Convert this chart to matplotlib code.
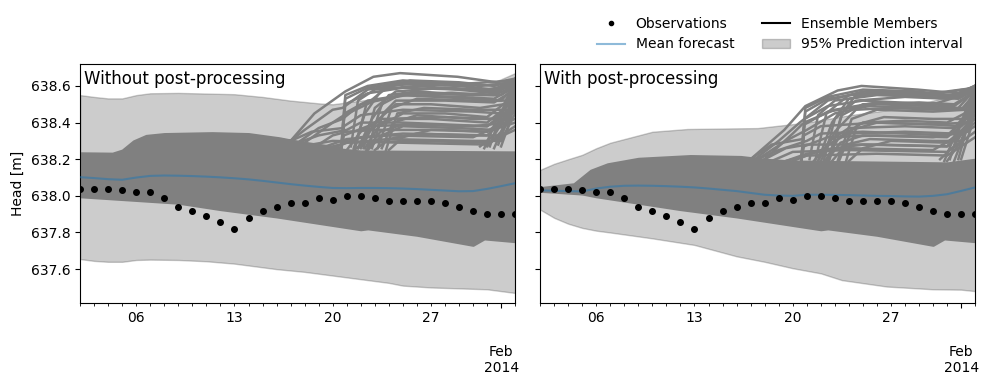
import matplotlib
matplotlib.use("Agg")
import matplotlib.pyplot as plt
import matplotlib.dates as mdates
from matplotlib.ticker import FuncFormatter, FormatStrFormatter
from matplotlib.lines import Line2D
from matplotlib.patches import Patch
import numpy as np
from datetime import datetime, timedelta

# days are counted in January 2014 (32 = Feb 1, 33 = Feb 2)
obs_days = list(range(2, 34))
observations = [638.04, 638.04, 638.04, 638.03, 638.02, 638.02, 637.99, 637.94,
                637.92, 637.89, 637.86, 637.82, 637.88, 637.92, 637.94, 637.96,
                637.96, 637.99, 637.98, 638.00, 638.00, 637.99, 637.97, 637.97,
                637.97, 637.97, 637.96, 637.94, 637.92, 637.90, 637.90, 637.90]

mean_raw = [638.102, 638.097, 638.091, 638.088, 638.100, 638.109, 638.111, 638.110,
            638.108, 638.105, 638.101, 638.096, 638.090, 638.082, 638.073, 638.064,
            638.056, 638.049, 638.043, 638.042, 638.043, 638.043, 638.042, 638.040,
            638.037, 638.033, 638.029, 638.025, 638.026, 638.038, 638.053, 638.069]
mean_post = [638.030, 638.028, 638.026, 638.024, 638.040, 638.050, 638.055, 638.056,
             638.055, 638.053, 638.050, 638.046, 638.040, 638.033, 638.026, 638.016,
             638.006, 638.002, 638.000, 638.006, 638.006, 638.005, 638.004, 638.002,
             638.000, 637.999, 637.997, 637.996, 638.000, 638.009, 638.027, 638.046]

# 95% prediction interval (day, value)
pi_low_raw = [(2, 637.655), (3, 637.645), (4, 637.64), (5, 637.64), (6, 637.65), (7, 637.652),
              (9, 637.65), (11, 637.643), (13, 637.63), (14, 637.62), (16, 637.60), (18, 637.585),
              (19, 637.575), (20, 637.565), (22, 637.545), (24, 637.525), (25, 637.51),
              (27, 637.50), (29, 637.495), (31, 637.49), (33, 637.47)]
pi_up_raw = [(2, 638.55), (3, 638.54), (4, 638.532), (5, 638.532), (6, 638.55), (7, 638.56),
             (9, 638.562), (13, 638.555), (15, 638.54), (17, 638.52), (19, 638.505), (20, 638.50),
             (21, 638.51), (23, 638.53), (25, 638.55), (28, 638.57), (30, 638.59),
             (31.5, 638.62), (33, 638.67)]
pi_low_post = [(2, 637.925), (3, 637.88), (4, 637.848), (5, 637.825), (6, 637.81), (7, 637.80),
               (10, 637.768), (13, 637.732), (16, 637.67), (18, 637.64), (20, 637.605),
               (22, 637.577), (23.5, 637.54), (26.7, 637.505), (30, 637.49), (32, 637.488),
               (33, 637.48)]
pi_up_post = [(2, 638.142), (3, 638.175), (4, 638.20), (5, 638.224), (6, 638.26), (7, 638.29),
              (8, 638.31), (10, 638.35), (12.5, 638.365), (17.5, 638.37), (19, 638.383),
              (21, 638.40), (24, 638.44), (27, 638.47), (29, 638.50), (31, 638.54), (33, 638.61)]

# densely overlapping ensemble members: lower edge and upper edge of the solid band
ens_low_raw = [(2, 637.995), (5, 637.98), (9, 637.96), (12, 637.925), (16, 637.885),
               (19, 637.85), (22, 637.815), (22.5, 637.82), (26, 637.785), (30, 637.73),
               (30.8, 637.765), (33, 637.75)]
ens_top_raw = [(2, 638.235), (4.3, 638.233), (5, 638.25), (5.8, 638.30), (6.7, 638.33),
               (8, 638.34), (11.4, 638.345), (14, 638.34), (16.2, 638.317), (18, 638.29),
               (20, 638.26), (22, 638.245), (33, 638.24)]
ens_low_post = [(2, 638.025), (5, 638.01), (6, 637.995), (9, 637.96), (12, 637.925),
                (16, 637.885), (19, 637.85), (22, 637.815), (22.5, 637.82), (26, 637.785),
                (30, 637.73), (30.8, 637.765), (33, 637.75)]
ens_top_post = [(2, 638.045), (4.4, 638.066), (5.6, 638.14), (6.8, 638.175), (9, 638.205),
                (12.7, 638.22), (16.3, 638.215), (18, 638.20), (20, 638.19), (31, 638.18),
                (33, 638.20)]

# individual members that leave the band
members_raw = [
    [(16, 638.31), (17, 638.30), (18.7, 638.45), (20.9, 638.57), (22.9, 638.65), (24.8, 638.67), (28.9, 638.65), (31.7, 638.62), (33, 638.64)],
    [(17, 638.30), (18.0, 638.36), (20, 638.47), (20.7, 638.48), (22.5, 638.58), (25, 638.61), (29, 638.60), (31.5, 638.58), (33, 638.62)],
    [(17.5, 638.29), (19, 638.37), (20.7, 638.42), (22, 638.50), (25, 638.55), (29, 638.54), (31.5, 638.53), (33, 638.60)],
    [(17, 638.30), (20.6, 638.26), (20.9, 638.55), (22.5, 638.60), (25, 638.63), (29, 638.61), (31.3, 638.57), (32.5, 638.62), (33, 638.63)],
    [(20.6, 638.25), (20.9, 638.50), (22.5, 638.56), (25, 638.59), (29, 638.58), (31.5, 638.56), (33, 638.62)],
    [(21.5, 638.26), (22.3, 638.45), (23.5, 638.58), (25.5, 638.63), (29, 638.62), (31.5, 638.60), (33, 638.63)],
    [(21.8, 638.26), (22.8, 638.42), (24, 638.55), (26, 638.57), (30, 638.55), (32, 638.55), (33, 638.60)],
    [(22, 638.26), (23, 638.40), (24.5, 638.50), (27, 638.50), (30.5, 638.48), (32.2, 638.50), (33, 638.58)],
    [(22.3, 638.26), (23.3, 638.38), (25, 638.45), (28, 638.45), (31, 638.43), (32.5, 638.52), (33, 638.56)],
    [(21, 638.25), (22, 638.35), (23.5, 638.42), (27, 638.42), (31, 638.40), (32.3, 638.48), (33, 638.55)],
    [(22.5, 638.25), (23.5, 638.33), (25, 638.38), (29, 638.37), (31.5, 638.36), (32.7, 638.48), (33, 638.52)],
    [(23, 638.25), (24, 638.31), (26, 638.34), (30, 638.33), (32, 638.33), (33, 638.50)],
    [(20.6, 638.26), (20.8, 638.38), (22, 638.44), (25, 638.47), (30, 638.46), (32, 638.45), (33, 638.55)],
    [(21.5, 638.25), (22.5, 638.30), (24, 638.31), (30, 638.30), (32, 638.30), (33, 638.45)],
    [(19, 638.28), (20, 638.33), (21, 638.35), (23, 638.36), (28, 638.36), (31, 638.35), (33, 638.40)],
    [(18.5, 638.28), (20, 638.30), (25, 638.29), (31, 638.28), (33, 638.38)],
    [(22.8, 638.26), (23.6, 638.45), (24.5, 638.52), (28, 638.52), (31.5, 638.51), (33, 638.58)],
    [(23.5, 638.26), (24.3, 638.40), (26, 638.44), (30, 638.42), (32.5, 638.42), (33, 638.54)],
    [(21.3, 638.27), (21.8, 638.52), (23, 638.58), (26, 638.60), (29.5, 638.58), (31.8, 638.57), (33, 638.62)],
    [(31.5, 638.26), (32.3, 638.40), (33, 638.58)],
    [(31.8, 638.28), (32.6, 638.45), (33, 638.62)],
    [(31, 638.27), (32, 638.35), (33, 638.50)],
    [(19.5, 638.27), (21, 638.31), (24, 638.33), (30, 638.32), (33, 638.42)],
    [(20, 638.26), (22, 638.32), (25, 638.34), (31, 638.33), (33, 638.47)],
    [(17.5, 638.29), (19, 638.33), (21, 638.36), (22, 638.40), (25, 638.40), (31, 638.38), (33, 638.50)],
    [(18, 638.29), (20, 638.40), (20.8, 638.44), (23, 638.52), (26, 638.56), (30, 638.55), (33, 638.60)],
    [(21.6, 638.26), (22.4, 638.50), (24, 638.60), (27, 638.62), (30.5, 638.60), (33, 638.62)],
    [(22.2, 638.26), (23, 638.48), (24.5, 638.57), (28, 638.59), (31, 638.58), (33, 638.61)],
    [(22.5, 638.26), (23.5, 638.50), (25, 638.56), (29, 638.56), (31.5, 638.55), (33, 638.60)],
    [(23.2, 638.26), (24.2, 638.48), (26, 638.53), (30, 638.52), (32.3, 638.52), (33, 638.59)],
    [(21.8, 638.26), (22.6, 638.36), (24, 638.42), (28, 638.43), (31.5, 638.42), (33, 638.53)],
    [(22.4, 638.25), (23.4, 638.35), (25, 638.39), (30, 638.38), (32.5, 638.40), (33, 638.52)],
    [(24, 638.25), (25, 638.32), (27, 638.36), (31, 638.35), (33, 638.46)],
    [(23.8, 638.25), (24.6, 638.45), (26.5, 638.48), (30, 638.47), (32.5, 638.47), (33, 638.57)],
    [(20.6, 638.26), (20.85, 638.45), (22.5, 638.52), (25, 638.55), (30, 638.53), (32, 638.52), (33, 638.60)],
    [(20.6, 638.25), (20.8, 638.33), (22.5, 638.38), (26, 638.39), (31, 638.38), (33, 638.48)],
    [(30.8, 638.26), (31.6, 638.40), (32.5, 638.52), (33, 638.60)],
    [(31.2, 638.27), (32, 638.45), (33, 638.64)],
    [(32, 638.27), (32.7, 638.42), (33, 638.55)],
    [(30.5, 638.27), (31.5, 638.33), (32.5, 638.45), (33, 638.56)],
    [(19.5, 638.26), (21, 638.29), (26, 638.30), (31, 638.29), (33, 638.36)],
    [(17, 638.30), (18.5, 638.35), (20.7, 638.37), (20.9, 638.53), (22.5, 638.59), (25, 638.62), (29, 638.61), (33, 638.63)],
]
members_post = [
    [(17, 638.20), (19.4, 638.36), (20.9, 638.49), (23.2, 638.575), (24.9, 638.60), (28.9, 638.58), (31.8, 638.56), (33, 638.60)],
    [(17.3, 638.20), (19, 638.30), (20.5, 638.40), (22.5, 638.52), (25, 638.57), (29, 638.56), (31.5, 638.55), (33, 638.60)],
    [(17.5, 638.20), (19.5, 638.30), (21, 638.36), (23, 638.45), (26, 638.50), (30, 638.49), (31.8, 638.48), (33, 638.58)],
    [(20.6, 638.18), (20.9, 638.48), (22.5, 638.54), (25, 638.58), (29, 638.57), (31.3, 638.54), (33, 638.60)],
    [(20.6, 638.19), (20.85, 638.42), (22.5, 638.49), (25, 638.52), (30, 638.50), (31.5, 638.49), (33, 638.57)],
    [(21.8, 638.19), (22.8, 638.40), (24, 638.53), (26, 638.56), (30, 638.55), (32, 638.54), (33, 638.59)],
    [(22.0, 638.19), (23.0, 638.35), (24.5, 638.47), (27, 638.48), (30.5, 638.47), (32.2, 638.48), (33, 638.56)],
    [(22.3, 638.19), (23.3, 638.32), (25, 638.40), (28, 638.41), (31, 638.40), (32.5, 638.46), (33, 638.55)],
    [(21.5, 638.19), (22.5, 638.28), (24, 638.34), (28, 638.35), (31.5, 638.34), (32.5, 638.44), (33, 638.52)],
    [(22.8, 638.19), (23.8, 638.28), (25.5, 638.31), (30, 638.30), (32, 638.30), (33, 638.48)],
    [(18, 638.20), (19.5, 638.26), (21, 638.28), (26, 638.28), (31, 638.27), (33, 638.40)],
    [(18.5, 638.19), (20, 638.24), (24, 638.25), (31, 638.24), (33, 638.35)],
    [(22.6, 638.19), (23.5, 638.45), (24.5, 638.55), (28, 638.56), (31.5, 638.54), (33, 638.60)],
    [(23.3, 638.19), (24.2, 638.36), (26, 638.40), (30, 638.39), (32.5, 638.40), (33, 638.52)],
    [(21.2, 638.20), (21.8, 638.44), (23, 638.52), (26, 638.55), (29.5, 638.54), (31.8, 638.53), (33, 638.58)],
    [(31.5, 638.19), (32.3, 638.35), (33, 638.55)],
    [(31.8, 638.20), (32.6, 638.42), (33, 638.58)],
    [(31, 638.19), (32, 638.30), (33, 638.48)],
    [(20.6, 638.19), (20.8, 638.33), (22, 638.38), (26, 638.40), (30, 638.39), (32, 638.38), (33, 638.50)],
    [(19.5, 638.19), (21, 638.23), (24, 638.26), (30, 638.25), (33, 638.38)],
    [(20, 638.19), (22, 638.25), (25, 638.28), (31, 638.27), (33, 638.44)],
    [(17.5, 638.20), (19, 638.25), (21, 638.30), (22, 638.34), (25, 638.35), (31, 638.33), (33, 638.47)],
    [(18, 638.20), (20, 638.34), (20.8, 638.40), (23, 638.47), (26, 638.51), (30, 638.50), (33, 638.57)],
    [(21.6, 638.19), (22.4, 638.45), (24, 638.55), (27, 638.57), (30.5, 638.56), (33, 638.59)],
    [(22.2, 638.19), (23, 638.42), (24.5, 638.52), (28, 638.54), (31, 638.53), (33, 638.58)],
    [(22.5, 638.19), (23.5, 638.44), (25, 638.50), (29, 638.51), (31.5, 638.50), (33, 638.57)],
    [(23.2, 638.19), (24.2, 638.42), (26, 638.47), (30, 638.46), (32.3, 638.47), (33, 638.56)],
    [(21.8, 638.19), (22.6, 638.30), (24, 638.37), (28, 638.38), (31.5, 638.37), (33, 638.50)],
    [(22.4, 638.19), (23.4, 638.29), (25, 638.33), (30, 638.32), (32.5, 638.35), (33, 638.48)],
    [(24, 638.19), (25, 638.26), (27, 638.30), (31, 638.29), (33, 638.42)],
    [(23.8, 638.19), (24.6, 638.39), (26.5, 638.43), (30, 638.42), (32.5, 638.42), (33, 638.54)],
    [(20.6, 638.19), (20.85, 638.39), (22.5, 638.46), (25, 638.49), (30, 638.48), (32, 638.47), (33, 638.56)],
    [(20.6, 638.19), (20.8, 638.27), (22.5, 638.32), (26, 638.33), (31, 638.32), (33, 638.44)],
    [(30.8, 638.19), (31.6, 638.34), (32.5, 638.47), (33, 638.57)],
    [(31.2, 638.20), (32, 638.40), (33, 638.60)],
    [(32, 638.20), (32.7, 638.37), (33, 638.52)],
    [(30.5, 638.20), (31.5, 638.27), (32.5, 638.40), (33, 638.53)],
    [(19.5, 638.19), (21, 638.22), (26, 638.23), (31, 638.22), (33, 638.32)],
    [(17, 638.20), (18.5, 638.28), (20.7, 638.31), (20.9, 638.46), (22.5, 638.53), (25, 638.56), (29, 638.55), (33, 638.59)],
]

panel_titles = ["Without post-processing", "With post-processing"]

base = datetime(2014, 1, 1)


def to_date(d):
    return base + timedelta(days=d - 1)


def split(knots):
    return [to_date(k[0]) for k in knots], [k[1] for k in knots]


def band(low, up):
    # put two knot lists on a common grid so fill_between can use them
    grid = sorted(set([k[0] for k in low] + [k[0] for k in up]))
    lo = np.interp(grid, [k[0] for k in low], [k[1] for k in low])
    hi = np.interp(grid, [k[0] for k in up], [k[1] for k in up])
    return [to_date(g) for g in grid], lo, hi


fig, axes = plt.subplots(1, 2, sharey=True, figsize=(9.89, 3.9), dpi=100)
fig.subplots_adjust(left=0.081, right=0.986, top=0.836, bottom=0.223, wspace=0.0575)

panels = [
    (mean_raw, pi_low_raw, pi_up_raw, ens_low_raw, ens_top_raw, members_raw),
    (mean_post, pi_low_post, pi_up_post, ens_low_post, ens_top_post, members_post),
]
obs_dates = [to_date(d) for d in obs_days]

for ax, title, (mean, pil, piu, el, et, members) in zip(axes, panel_titles, panels):
    x, lo, hi = band(pil, piu)
    ax.fill_between(x, lo, hi, color="k", alpha=0.2, zorder=1)
    x, lo, hi = band(el, et)
    ax.fill_between(x, lo, hi, color="gray", lw=1.5, zorder=2)
    for m in members:
        mx, my = split(m)
        ax.plot(mx, my, color="gray", lw=1.8, zorder=2)
    ax.plot(obs_dates, mean, color="tab:blue", alpha=0.5, lw=1.5, zorder=3)
    ax.plot(obs_dates, observations, "o", color="k", ms=4, zorder=4)

    ax.text(0.008, 0.975, title, transform=ax.transAxes, ha="left", va="top", fontsize=12)
    ax.set_xlim(to_date(2), to_date(33))

    ax.xaxis.set_major_locator(mdates.MonthLocator())
    ax.xaxis.set_major_formatter(mdates.DateFormatter("\n\n%b\n%Y"))
    ax.xaxis.set_minor_locator(mdates.DayLocator())
    ax.xaxis.set_minor_formatter(FuncFormatter(
        lambda v, p: mdates.num2date(v).strftime("%d") if mdates.num2date(v).weekday() == 0 else ""))

axes[0].set_ylim(637.415, 638.72)
axes[0].set_yticks([637.6, 637.8, 638.0, 638.2, 638.4, 638.6])
axes[0].yaxis.set_major_formatter(FormatStrFormatter("%.1f"))
axes[0].set_ylabel("Head [m]")

handles = [
    Line2D([], [], marker="o", ls="none", color="k", ms=3),
    Line2D([], [], color="tab:blue", alpha=0.5),
    Line2D([], [], color="k"),
    Patch(facecolor="k", alpha=0.2, edgecolor="k"),
]
labels = ["Observations", "Mean forecast", "Ensemble Members", "95% Prediction interval"]
axes[1].legend(handles, labels, loc="lower right", bbox_to_anchor=(1.0, 1.0), ncol=2,
               frameon=False)

fig.savefig("out.png", dpi=100)
